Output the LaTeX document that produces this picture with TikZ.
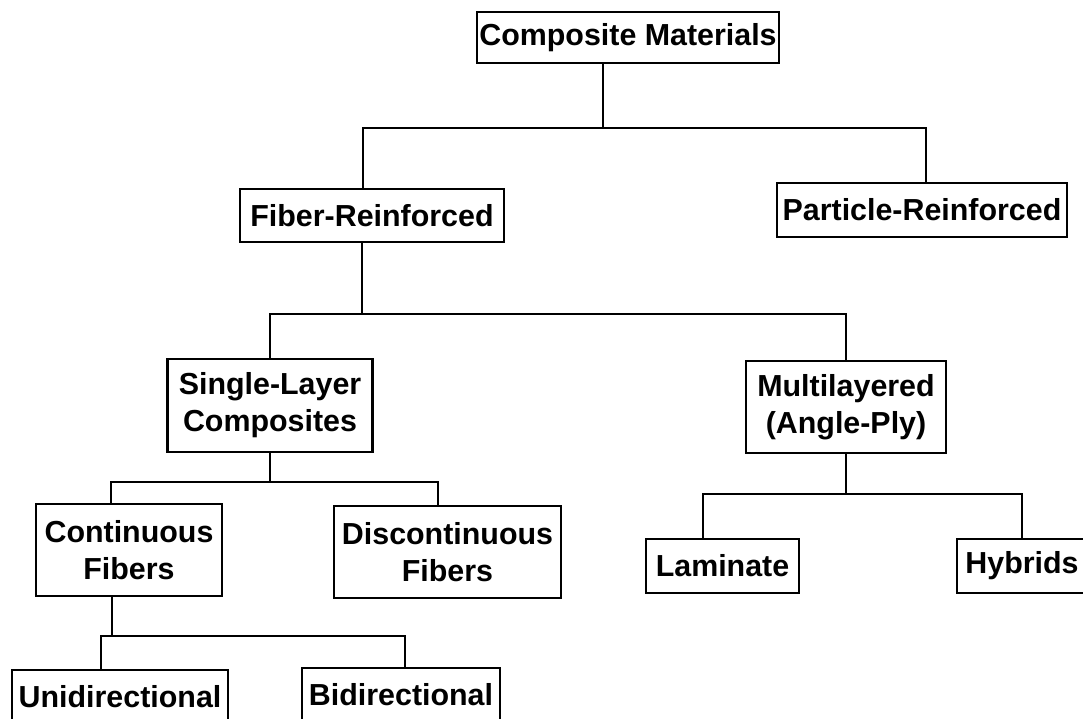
\documentclass[tikz,border=0pt]{standalone}
\usepackage{fontspec}
\setmainfont{Liberation Sans}
\usepackage{tikz}

\begin{document}
\begin{tikzpicture}[x=1pt, y=-1pt, line width=2.2pt, line join=miter,
    box/.style={draw, inner sep=0pt, align=center,
        font=\fontsize{30.4}{37}\selectfont\bfseries}]
    % --- page frame (boxes at the bottom and right run off the page) ---
    \clip (0,0) rectangle (1083,719);

    % --- Level 0 ---
    \node[box, minimum width=302pt, minimum height=51pt] (cm) at (628,37.5) {Composite Materials};

    % --- Level 1 ---
    \node[box, minimum width=264pt, minimum height=53pt] (fr) at (372,215.5) {Fiber-Reinforced};
    \node[box, minimum width=290pt, minimum height=54pt] (pr) at (922,210) {Particle-Reinforced};

    % --- Level 2 ---
    \node[box, minimum width=205pt, minimum height=93pt] (sl) at (270,405.5) {Single-Layer\\Composites};
    \node[box, minimum width=200pt, minimum height=92pt] (ml) at (846,407) {Multilayered\\(Angle-Ply)};

    % --- Level 3 ---
    \node[box, minimum width=186pt, minimum height=92pt] (cf) at (129,550) {Continuous\\Fibers};
    \node[box, minimum width=227pt, minimum height=92pt] (df) at (447.5,552) {Discontinuous\\Fibers};
    \node[box, minimum width=153pt, minimum height=54pt] (lam) at (722.5,566) {Laminate};
    \node[box, minimum width=130pt, minimum height=54pt] (hyb) at (1022,566) {Hybrids};

    % --- Level 4 ---
    \node[box, minimum width=216pt, minimum height=54pt] (uni) at (120,697) {Unidirectional};
    \node[box, minimum width=198pt, minimum height=54pt] (bid) at (401,695) {Bidirectional};

    % --- Junctions of the tree ---
    \coordinate (j0) at (603,128);
    \coordinate (j1) at (362,314);
    \coordinate (j2) at (270,482);
    \coordinate (j3) at (846,494);
    \coordinate (j4) at (112,636);

    % --- Connectors ---
    \draw ([xshift=-25pt]cm.south) -- (j0);
    \draw ([xshift=-9pt]fr.north) |- (j0) -| ([xshift=4pt]pr.north);

    \draw ([xshift=-10pt]fr.south) -- (j1);
    \draw (sl.north) |- (j1) -| (ml.north);

    \draw (sl.south) -- (j2);
    \draw ([xshift=-18pt]cf.north) |- (j2) -| ([xshift=-9.5pt]df.north);

    \draw (ml.south) -- (j3);
    \draw ([xshift=-19.5pt]lam.north) |- (j3) -| (hyb.north);

    \draw ([xshift=-17pt]cf.south) -- (j4);
    \draw ([xshift=-19pt]uni.north) |- (j4) -| ([xshift=4pt]bid.north);

\end{tikzpicture}
\end{document}
